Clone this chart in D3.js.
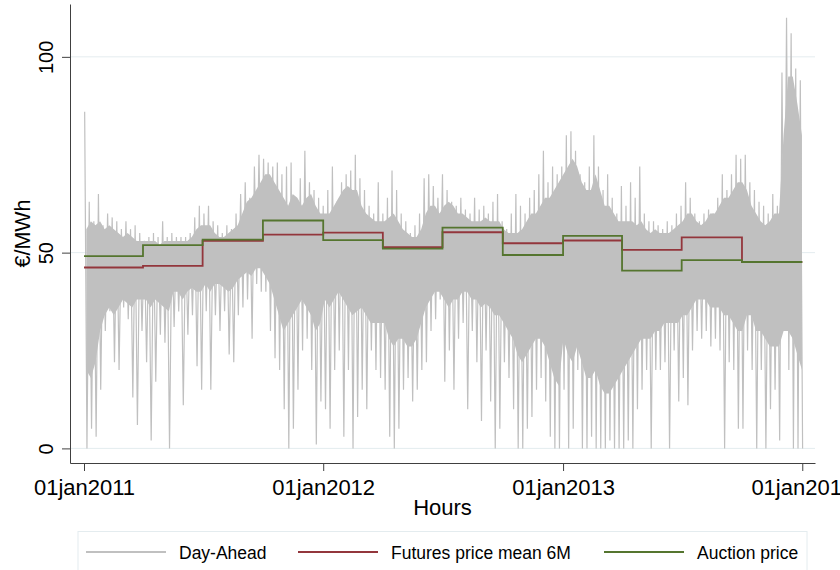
<!DOCTYPE html>
<html>
<head>
<meta charset="utf-8">
<script src="https://cdn.jsdelivr.net/npm/d3@7"></script>
<style>
    body { margin: 0; background: #fff; }
    svg { display: block; font-family: "Liberation Sans", Arial, sans-serif; }
</style>
</head>
<body>
<svg width="840" height="570"></svg>
<script>
// quarterly price levels (EUR/MWh)
let quarterStarts = ["2011-01-01", "2011-04-01", "2011-07-01", "2011-10-01",
    "2012-01-01", "2012-04-01", "2012-07-01", "2012-10-01",
    "2013-01-01", "2013-04-01", "2013-07-01", "2013-10-01"];
let periodEnd = "2014-01-01";
let futuresMean6M = [46.2, 46.6, 53.0, 54.6, 55.1, 51.4, 55.2, 52.4, 53.1, 50.7, 53.9, 47.6];
let auctionPrice = [49.1, 51.9, 53.3, 58.2, 53.2, 51.0, 56.4, 49.4, 54.3, 45.4, 48.1, 47.6];

// day-ahead hourly prices, summarised per week (weeks start 01jan2011)
// highest and lowest hour of the week
let weekHigh = [
    86, 63, 58, 65, 57, 60, 59, 58, 56, 58, 56, 57, 55,
    53, 54, 55, 54, 58, 54, 55, 54, 54, 54, 55, 59, 62,
    60, 62, 58, 57, 55, 57, 56, 60, 65, 68, 64, 72, 75,
    74, 73, 72, 73, 70, 72, 73, 64, 69, 76, 68, 66, 64,
    62, 66, 72, 63, 68, 70, 71, 75, 69, 66, 62, 60, 68,
    60, 64, 71, 66, 60, 58, 55, 57, 60, 69, 70, 67, 64,
    70, 66, 63, 62, 64, 61, 60, 64, 61, 62, 60, 63, 65,
    58, 56, 60, 65, 62, 60, 64, 66, 70, 76, 68, 72, 70,
    72, 80, 81, 76, 70, 68, 72, 80, 72, 66, 70, 64, 60,
    67, 62, 68, 64, 72, 60, 58, 58, 57, 56, 58, 57, 60,
    62, 68, 64, 60, 58, 60, 61, 60, 64, 70, 66, 70, 75,
    74, 75, 68, 66, 63, 62, 60, 65, 62, 96, 110, 106, 97, 94];
let weekLow = [
    0, 5, 3, 15, 30, 35, 22, 20, 36, 33, 13, 6, 30,
    22, 2, 17, 29, 27, 0, 31, 35, 11, 29, 34, 21, 15,
    35, 15, 34, 30, 35, 24, 22, 34, 36, 38, 28, 42, 40,
    40, 30, 23, 20, 10, 0, 5, 15, 25, 28, 20, 1, 12,
    10, 5, 20, 25, 3, 20, 0, 8, 15, 10, 25, 20, 18,
    15, 3, 0, 5, 15, 18, 12, 15, 20, 22, 30, 33, 38,
    17, 25, 15, 28, 32, 10, 30, 22, 7, 25, 12, 0, 5,
    22, 18, 10, 0, 0, 5, 8, 15, 18, 12, 3, 0, 0,
    15, 0, 5, 20, 0, 0, 3, 0, 0, 0, 2, 0, 0,
    0, 2, 0, 10, 15, 20, 0, 20, 20, 22, 0, 25, 12,
    18, 11, 25, 30, 28, 30, 26, 28, 25, 0, 22, 20, 5,
    5, 25, 20, 0, 20, 0, 10, 15, 2, 30, 20, 0, 0, 0];
// band where most hours of the week lie
let weekCoreHigh = [
    56, 58, 57, 58, 56, 57, 56, 55, 54, 55, 54, 53, 53,
    53, 53, 53, 52, 53, 53, 53, 53, 53, 53, 54, 56, 57,
    57, 57, 55, 54, 54, 55, 56, 57, 60, 63, 64, 66, 68,
    70, 70, 68, 66, 64, 62, 65, 64, 62, 64, 65, 62, 60,
    60, 60, 62, 64, 66, 67, 66, 66, 62, 60, 59, 58, 58,
    58, 59, 60, 58, 56, 55, 54, 54, 56, 60, 62, 62, 60,
    62, 63, 62, 60, 60, 59, 58, 58, 58, 59, 58, 58, 58,
    56, 55, 55, 55, 56, 58, 60, 60, 62, 64, 64, 66, 68,
    70, 72, 74, 72, 68, 66, 66, 70, 66, 62, 62, 60, 58,
    58, 58, 58, 57, 58, 56, 55, 56, 55, 55, 55, 56, 57,
    58, 60, 60, 58, 57, 58, 60, 60, 62, 64, 64, 66, 68,
    68, 66, 62, 60, 58, 57, 58, 60, 60, 80, 95, 95, 88, 80];
let weekCoreLow = [
    20, 18, 22, 30, 34, 36, 34, 36, 38, 37, 36, 38, 38,
    38, 36, 38, 37, 36, 35, 40, 40, 38, 40, 41, 40, 40,
    42, 40, 42, 42, 41, 40, 41, 43, 44, 45, 44, 46, 46,
    44, 42, 38, 34, 30, 32, 34, 36, 38, 36, 34, 30, 32,
    38, 36, 38, 40, 38, 36, 34, 35, 36, 34, 32, 32, 32,
    32, 28, 26, 28, 28, 26, 26, 28, 32, 36, 38, 40, 40,
    38, 36, 38, 38, 40, 40, 38, 38, 36, 37, 36, 34, 34,
    32, 30, 28, 24, 22, 24, 26, 28, 28, 26, 22, 18, 16,
    28, 24, 22, 26, 22, 18, 18, 20, 16, 14, 14, 16, 18,
    20, 22, 24, 26, 28, 28, 28, 30, 30, 32, 32, 32, 32,
    34, 34, 36, 38, 38, 38, 36, 36, 36, 34, 34, 32, 30,
    30, 34, 34, 30, 30, 28, 26, 26, 26, 30, 30, 28, 24, 20];

let yTicks = [0, 50, 100];
let xTicks = ["2011-01-01", "2012-01-01", "2013-01-01", "2014-01-01"];

let svg = d3.select("svg");
let plot = { left: 70, right: 815, top: 4, bottom: 463 };
let parse = d3.utcParse("%Y-%m-%d");
let day = 864e5;
let start = parse("2011-01-01");

let x = d3.scaleUtc()
    .domain([new Date(+start - 21.375 * day), new Date(+parse("2014-01-01") + 19.42 * day)])
    .range([plot.left, plot.right]);
let y = d3.scaleLinear()
    .domain([-3.73, 113.5])
    .range([plot.bottom, plot.top]);

// grid
svg.append("g").selectAll("line").data(yTicks).enter().append("line")
    .attr("x1", plot.left).attr("x2", plot.right)
    .attr("y1", d => y(d)).attr("y2", d => y(d))
    .style("stroke", "#e4ecef").style("stroke-width", 1);

// day-ahead: dense weekly band
let coreData = weekCoreHigh.map((h, i) => ({
    date: new Date(+start + (i * 7 + 3.5) * day), hi: h, lo: weekCoreLow[i]
}));
svg.append("path")
    .datum(coreData)
    .attr("d", d3.area().x(d => x(d.date)).y0(d => y(d.lo)).y1(d => y(d.hi)))
    .style("fill", "#c0c0c0");

// day-ahead: weekly extremes as a line
let spikes = [];
weekHigh.forEach((h, i) => {
    spikes.push({ date: new Date(+start + (i * 7 + 1) * day), v: h });
    spikes.push({ date: new Date(+start + (i * 7 + 4.5) * day), v: weekLow[i] });
});
svg.append("path")
    .datum(spikes)
    .attr("d", d3.line().x(d => x(d.date)).y(d => y(d.v)))
    .style("fill", "none").style("stroke", "#c0c0c0").style("stroke-width", 1.2);

// quarterly step lines
function stepData(values) {
    let out = quarterStarts.map((q, i) => ({ date: parse(q), v: values[i] }));
    out.push({ date: parse(periodEnd), v: values[values.length - 1] });
    return out;
}
let stepLine = d3.line().curve(d3.curveStepAfter).x(d => x(d.date)).y(d => y(d.v));
svg.append("path").datum(stepData(futuresMean6M)).attr("d", stepLine)
    .style("fill", "none").style("stroke", "#93363c").style("stroke-width", 1.8);
svg.append("path").datum(stepData(auctionPrice)).attr("d", stepLine)
    .style("fill", "none").style("stroke", "#55752f").style("stroke-width", 1.8);

// axes
let yAxis = svg.append("g")
    .attr("transform", "translate(" + plot.left + ",0)")
    .call(d3.axisLeft(y).tickValues(yTicks).tickSize(8).tickSizeOuter(0))
    .attr("font-size", null).attr("font-family", null);
yAxis.selectAll(".tick text")
    .attr("x", 0).attr("dy", 0)
    .attr("transform", "translate(-17,0) rotate(-90)")
    .attr("text-anchor", "middle")
    .style("font-size", "20px").style("fill", "#000");

let xAxis = svg.append("g")
    .attr("transform", "translate(0," + plot.bottom + ")")
    .call(d3.axisBottom(x).tickValues(xTicks.map(parse)).tickSize(8).tickSizeOuter(0)
        .tickFormat(d => d3.utcFormat("%d%b%Y")(d).toLowerCase()))
    .attr("font-size", null).attr("font-family", null);
xAxis.selectAll(".tick text")
    .attr("y", 16)
    .style("font-size", "22px").style("fill", "#000");

svg.selectAll(".domain, .tick line").style("stroke", "#404040").style("stroke-width", 1);

// axis titles
svg.append("text")
    .attr("transform", "translate(30," + ((plot.top + plot.bottom) / 2) + ") rotate(-90)")
    .attr("text-anchor", "middle")
    .style("font-size", "21.5px")
    .text("€/MWh");
svg.append("text")
    .attr("x", (plot.left + plot.right) / 2).attr("y", 515)
    .attr("text-anchor", "middle")
    .style("font-size", "22px")
    .text("Hours");

// legend
svg.append("rect")
    .attr("x", 78).attr("y", 531.5).attr("width", 729).attr("height", 60)
    .style("fill", "#fff").style("stroke", "#e4ecef");
let legendItems = [
    { label: "Day-Ahead", color: "#c0c0c0", x: 86 },
    { label: "Futures price mean 6M", color: "#93363c", x: 298 },
    { label: "Auction price", color: "#55752f", x: 604 }
];
let lg = svg.append("g").selectAll("g").data(legendItems).enter().append("g")
    .attr("transform", d => "translate(" + d.x + ",552)");
lg.append("line").attr("x1", 0).attr("x2", 80)
    .style("stroke", d => d.color).style("stroke-width", 1.8);
lg.append("text").attr("x", 93).attr("y", 6.5)
    .style("font-size", "17.5px")
    .text(d => d.label);
</script>
</body>
</html>
